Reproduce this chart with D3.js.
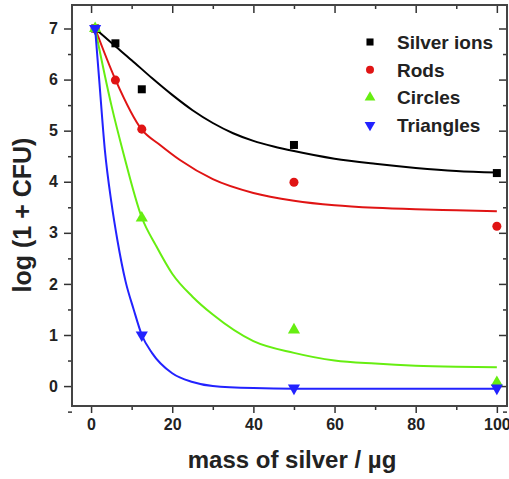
<!DOCTYPE html>
<html>
<head>
<meta charset="utf-8">
<script src="https://cdn.jsdelivr.net/npm/d3@7"></script>
<style>
  html, body { margin: 0; padding: 0; background: #fff; }
  text { font-family: "Liberation Sans", Arial, sans-serif; font-weight: bold; fill: #222; }
</style>
</head>
<body>
<svg id="chart" width="509" height="479"></svg>
<script>
// series names and colours
const SERIES = ["Silver ions", "Rods", "Circles", "Triangles"];
const COLORS = ["#000000", "#e01414", "#66ee11", "#2222ff"];
const SYMBOLS = ["square", "circle", "up", "down"];

// measured points (mass of silver in ug, log(1 + CFU))
const silverIonPoints = [[1, 7.0], [6, 6.71], [12.5, 5.81], [50, 4.72], [100, 4.17]];
const rodPoints = [[1, 7.0], [6, 5.99], [12.5, 5.03], [50, 3.99], [100, 3.13]];
const circlePoints = [[1, 7.0], [12.5, 3.29], [50, 1.1], [100, 0.07]];
const trianglePoints = [[1, 7.0], [12.5, 1.0], [50, -0.04], [100, -0.04]];

// fitted curves
const silverIonFit = [[1, 7], [5, 6.72], [10, 6.38], [15, 6.03], [20, 5.7], [25, 5.4], [30, 5.15],
  [35, 4.95], [40, 4.8], [45, 4.69], [50, 4.6], [60, 4.45], [70, 4.35], [80, 4.27], [90, 4.21], [100, 4.18]];
const rodFit = [[1, 7], [6, 6.0], [12.5, 5.02], [17, 4.72], [22, 4.42], [30, 4.05], [40, 3.78],
  [50, 3.63], [60, 3.54], [70, 3.49], [80, 3.46], [90, 3.44], [100, 3.42]];
const circleFit = [[1, 7], [5, 5.5], [8, 4.55], [12.5, 3.3], [16, 2.75], [20, 2.2], [25, 1.75],
  [30, 1.4], [40, 0.88], [50, 0.65], [60, 0.5], [70, 0.44], [80, 0.4], [90, 0.38], [100, 0.37]];
const triangleFit = [[1, 7], [2, 6.0], [3.4, 4.62], [5, 3.6], [6.5, 2.85], [8.5, 2.05], [10.5, 1.5],
  [12.5, 1.0], [15, 0.65], [20, 0.25], [25, 0.08], [30, 0.0], [40, -0.04], [50, -0.05], [100, -0.05]];

const xTicks = [0, 20, 40, 60, 80, 100];
const xMinorTicks = [10, 30, 50, 70, 90];
const yTicks = [0, 1, 2, 3, 4, 5, 6, 7];
const yMinorTicks = [-0.5, 0.5, 1.5, 2.5, 3.5, 4.5, 5.5, 6.5];

const points = [silverIonPoints, rodPoints, circlePoints, trianglePoints];
const fits = [silverIonFit, rodFit, circleFit, triangleFit];

const svg = d3.select("#chart");
const plotLeft = 72, plotRight = 507, plotTop = 5, plotBottom = 406;

const x = d3.scaleLinear().domain([-4.7, 102.5]).range([plotLeft, plotRight]);
const y = d3.scaleLinear().domain([-0.39, 7.46]).range([plotBottom, plotTop]);

svg.append("rect").attr("width", 509).attr("height", 479).attr("fill", "#fff");

svg.append("clipPath").attr("id", "plot-clip")
  .append("rect").attr("x", plotLeft).attr("y", plotTop)
  .attr("width", plotRight - plotLeft).attr("height", plotBottom - plotTop);

// axes: bottom + left outward, top + right inward (mirror ticks)
function styleAxis(g) {
  g.select(".domain").remove();
  g.selectAll("line").attr("stroke", "#333").attr("stroke-width", 1.5);
  g.selectAll("text").attr("font-size", 16).attr("fill", "#222")
    .style("font-family", "'Liberation Sans', Arial, sans-serif").style("font-weight", "bold");
}

svg.append("g").attr("transform", `translate(0,${plotBottom})`)
  .call(d3.axisBottom(x).tickValues(xTicks).tickSize(7).tickPadding(6))
  .call(styleAxis);
svg.append("g").attr("transform", `translate(0,${plotBottom})`)
  .call(d3.axisBottom(x).tickValues(xMinorTicks).tickSize(4).tickFormat(""))
  .call(styleAxis);

svg.append("g").attr("transform", `translate(${plotLeft},0)`)
  .call(d3.axisLeft(y).tickValues(yTicks).tickSize(8).tickPadding(6))
  .call(styleAxis);
svg.append("g").attr("transform", `translate(${plotLeft},0)`)
  .call(d3.axisLeft(y).tickValues(yMinorTicks).tickSize(4).tickFormat(""))
  .call(styleAxis);

svg.append("g").attr("transform", `translate(0,${plotTop})`)
  .call(d3.axisBottom(x).tickValues(xTicks).tickSize(8).tickFormat(""))
  .call(styleAxis);
svg.append("g").attr("transform", `translate(0,${plotTop})`)
  .call(d3.axisBottom(x).tickValues(xMinorTicks).tickSize(4).tickFormat(""))
  .call(styleAxis);
svg.append("g").attr("transform", `translate(${plotRight},0)`)
  .call(d3.axisLeft(y).tickValues(yTicks).tickSize(8).tickFormat(""))
  .call(styleAxis);
svg.append("g").attr("transform", `translate(${plotRight},0)`)
  .call(d3.axisLeft(y).tickValues(yMinorTicks).tickSize(4).tickFormat(""))
  .call(styleAxis);

svg.append("rect")
  .attr("x", plotLeft).attr("y", plotTop)
  .attr("width", plotRight - plotLeft).attr("height", plotBottom - plotTop)
  .attr("fill", "none").attr("stroke", "#444").attr("stroke-width", 2);

// axis titles
svg.append("text")
  .attr("x", 292).attr("y", 468)
  .attr("text-anchor", "middle").attr("font-size", 24)
  .text("mass of silver / µg");

svg.append("text")
  .attr("transform", "translate(31,215) rotate(-90)")
  .attr("text-anchor", "middle").attr("font-size", 25)
  .text("log (1 + CFU)");

// marker shapes
function symbolPath(kind, size) {
  if (kind === "square") return d3.symbol(d3.symbolSquare, size)();
  if (kind === "circle") return d3.symbol(d3.symbolCircle, size)();
  return d3.symbol(d3.symbolTriangle, size)();
}

const plot = svg.append("g").attr("clip-path", "url(#plot-clip)");
const line = d3.line().x(d => x(d[0])).y(d => y(d[1])).curve(d3.curveMonotoneX);

SERIES.forEach((name, i) => {
  plot.append("path")
    .datum(fits[i])
    .attr("fill", "none")
    .attr("stroke", COLORS[i])
    .attr("stroke-width", 2)
    .attr("d", line);

  svg.append("g").selectAll("path")
    .data(points[i])
    .join("path")
    .attr("d", symbolPath(SYMBOLS[i], 64))
    .attr("transform", d => `translate(${x(d[0])},${y(d[1])})` + (SYMBOLS[i] === "down" ? " rotate(180)" : ""))
    .attr("fill", COLORS[i]);
});

// legend
const legend = svg.append("g");
SERIES.forEach((name, i) => {
  const row = legend.append("g").attr("transform", `translate(370,${42 + i * 27.7})`);
  row.append("path")
    .attr("d", symbolPath(SYMBOLS[i], 50))
    .attr("transform", SYMBOLS[i] === "down" ? "rotate(180)" : null)
    .attr("fill", COLORS[i]);
  row.append("text")
    .attr("x", 27).attr("dy", "0.36em")
    .attr("font-size", 19)
    .text(name);
});
</script>
</body>
</html>
